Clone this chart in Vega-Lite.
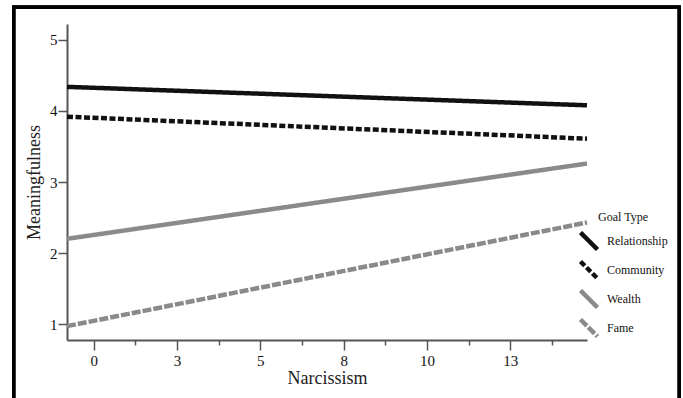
{
  "$schema": "https://vega.github.io/schema/vega-lite/v6.json",
  "width": 520,
  "height": 316,
  "autosize": {"type": "none"},
  "padding": {"left": 67, "top": 24, "right": 96, "bottom": 58},
  "background": "white",
  "config": {
    "view": {"stroke": null},
    "font": "Liberation Serif"
  },
  "data": {
    "values": [
      {"goal": "Relationship", "narc": -0.8, "mean": 4.34},
      {"goal": "Relationship", "narc": 14.8, "mean": 4.08},
      {"goal": "Community", "narc": -0.8, "mean": 3.92},
      {"goal": "Community", "narc": 14.8, "mean": 3.61},
      {"goal": "Wealth", "narc": -0.8, "mean": 2.2},
      {"goal": "Wealth", "narc": 14.8, "mean": 3.26},
      {"goal": "Fame", "narc": -0.8, "mean": 0.97},
      {"goal": "Fame", "narc": 14.8, "mean": 2.43}
    ]
  },
  "layer": [
    {
      "mark": {"type": "line", "strokeCap": "butt"},
      "encoding": {
        "x": {
          "field": "narc", "type": "quantitative",
          "scale": {"domain": [-0.8, 14.8], "nice": false, "zero": false},
          "axis": {
            "title": "Narcissism",
            "values": [0, 1.25, 2.5, 3.75, 5, 6.25, 7.5, 8.75, 10, 11.25, 12.5, 13.75],
            "labelExpr": "datum.value % 2.5 == 0 ? format(datum.value, '.0f') : ''",
            "tickSize": {"condition": {"test": "datum.value % 2.5 != 0", "value": 5}, "value": 10},
            "grid": false,
            "domainColor": "#555", "domainWidth": 2, "tickColor": "#555", "tickWidth": 1.5,
            "labelFont": "Liberation Serif", "labelFontSize": 15, "labelColor": "#111", "labelPadding": 3,
            "titleFont": "Liberation Serif", "titleFontSize": 18, "titleFontWeight": "normal", "titleColor": "#222", "titlePadding": 1
          }
        },
        "y": {
          "field": "mean", "type": "quantitative",
          "scale": {"domain": [0.775, 5.225], "nice": false, "zero": false},
          "axis": {
            "title": "Meaningfulness",
            "values": [1, 1.5, 2, 2.5, 3, 3.5, 4, 4.5, 5],
            "labelExpr": "datum.value % 1 == 0 ? format(datum.value, '.0f') : ''",
            "tickSize": {"condition": {"test": "datum.value % 1 != 0", "value": 5}, "value": 9},
            "grid": false,
            "domainColor": "#555", "domainWidth": 2, "tickColor": "#555", "tickWidth": 1.5,
            "labelFont": "Liberation Serif", "labelFontSize": 15, "labelColor": "#111", "labelPadding": 1,
            "titleFont": "Liberation Serif", "titleFontSize": 18, "titleFontWeight": "normal", "titleColor": "#222", "titlePadding": 6
          }
        },
        "color": {
          "field": "goal", "type": "nominal",
          "scale": {"domain": ["Relationship", "Community", "Wealth", "Fame"], "range": ["#111111", "#111111", "#8a8a8a", "#8a8a8a"]},
          "legend": {
            "orient": "none", "legendX": 511, "legendY": 188, "padding": 0,
            "title": "Goal Type", "titleAnchor": "middle", "titleFont": "Liberation Serif", "titleFontSize": 12, "titleFontWeight": "normal", "titleColor": "#111", "titlePadding": 6,
            "symbolType": "M-1,-1L1,1", "symbolSize": 289, "symbolStrokeWidth": 3,
            "labelFont": "Liberation Serif", "labelFontSize": 12, "labelColor": "#111", "labelOffset": 7, "rowPadding": -10
          }
        },
        "strokeDash": {
          "field": "goal", "type": "nominal",
          "scale": {"domain": ["Relationship", "Community", "Wealth", "Fame"], "range": [[1, 0], [6, 2.5], [1, 0], [9, 2]]},
          "legend": {
            "orient": "none", "legendX": 511, "legendY": 188, "padding": 0,
            "title": "Goal Type", "titleAnchor": "middle", "titleFont": "Liberation Serif", "titleFontSize": 12, "titleFontWeight": "normal", "titleColor": "#111", "titlePadding": 6,
            "symbolType": "M-1,-1L1,1", "symbolSize": 289, "symbolStrokeWidth": 3,
            "labelFont": "Liberation Serif", "labelFontSize": 12, "labelColor": "#111", "labelOffset": 7, "rowPadding": -10
          }
        },
        "strokeWidth": {
          "field": "goal", "type": "nominal",
          "scale": {"domain": ["Relationship", "Community", "Wealth", "Fame"], "range": [4.5, 4.5, 3.5, 3.5]},
          "legend": null
        }
      }
    },
    {
      "mark": {"type": "rule", "color": "black", "strokeWidth": 3},
      "encoding": {
        "x": {"datum": -2.4, "type": "quantitative"},
        "y": {"datum": 5.46, "type": "quantitative"},
        "y2": {"datum": -1}
      }
    },
    {
      "mark": {"type": "rule", "color": "black", "strokeWidth": 3},
      "encoding": {
        "x": {"datum": 17.57, "type": "quantitative"},
        "y": {"datum": 5.46, "type": "quantitative"},
        "y2": {"datum": -1}
      }
    },
    {
      "mark": {"type": "rule", "color": "black", "strokeWidth": 3},
      "encoding": {
        "x": {"datum": -2.45, "type": "quantitative"},
        "x2": {"datum": 17.62},
        "y": {"datum": 5.46, "type": "quantitative"}
      }
    }
  ]
}
